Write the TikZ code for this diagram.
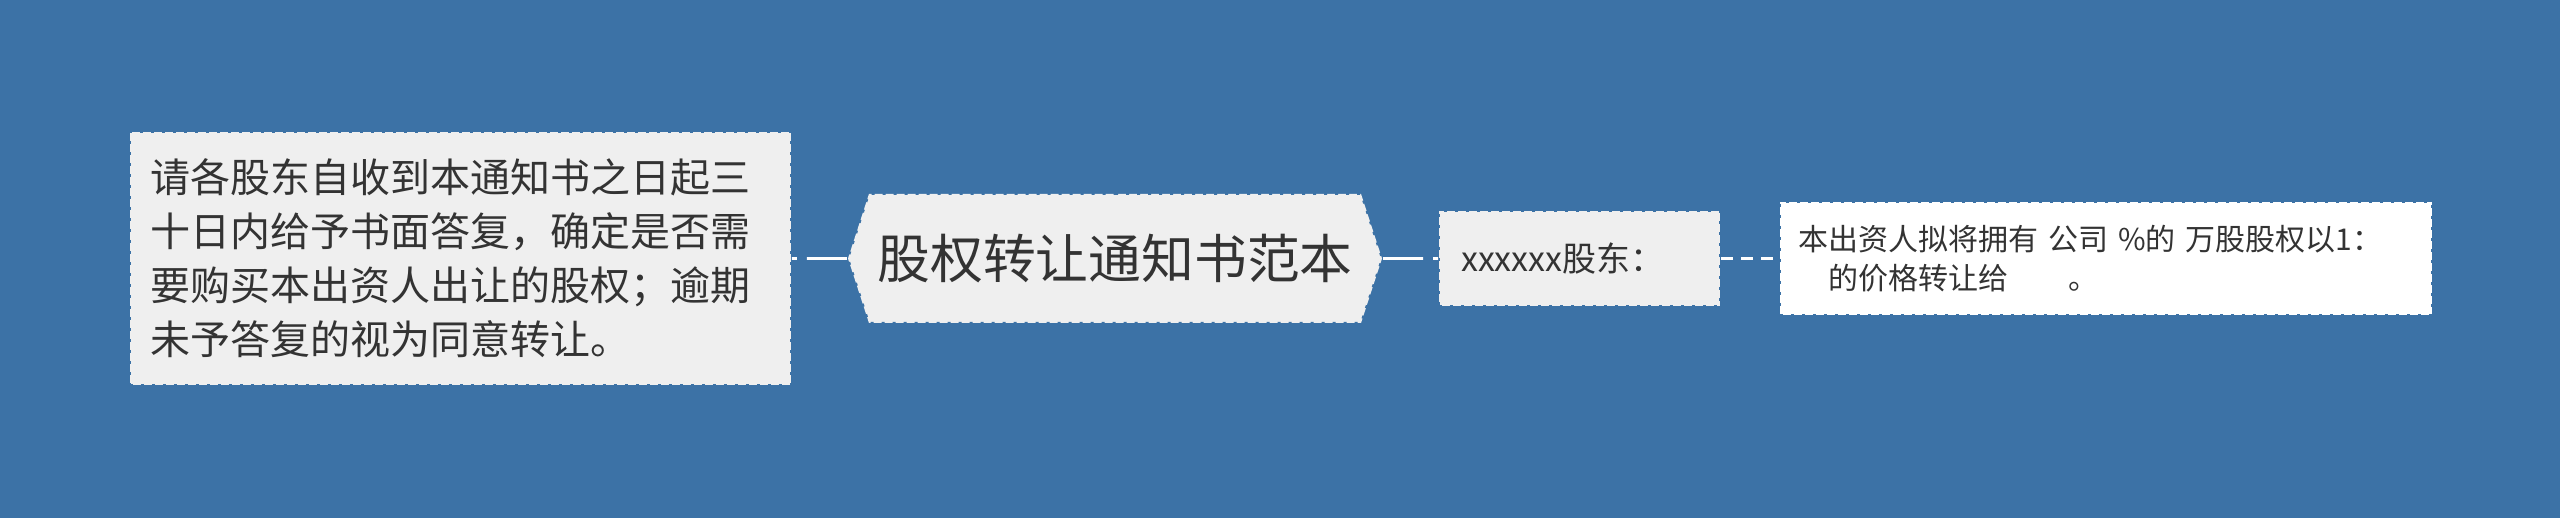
\documentclass[tikz,border=0pt]{standalone}
\usepackage{fontspec}
\setmainfont{Noto Sans CJK SC}
\usetikzlibrary{positioning}
\usetikzlibrary{shapes.symbols}
\definecolor{mBlue}{HTML}{3C72A6}
\definecolor{mGray}{HTML}{EFEFEF}
\definecolor{mText}{HTML}{333333}

\tikzset{
    topic/.style={rectangle, fill=mGray, draw=mBlue, line width=1pt, dash pattern=on 1.5pt off 4pt, text=mText, inner sep=0pt},
    link/.style={draw=white, line width=1.4pt, dash pattern=on 20pt off 5pt},
    sublink/.style={draw=white, line width=1.4pt, dash pattern=on 6pt off 4pt}
}

\begin{document}
\begin{tikzpicture}[node distance=27.5pt]
    \fill[mBlue] (0,0) rectangle (1280pt,259pt);
    \useasboundingbox (0,0) rectangle (1280pt,259pt);

    \node[topic, signal, signal to=west and east, signal pointer angle=144, minimum width=267pt, minimum height=64.5pt, font=\fontsize{26.4pt}{30pt}\selectfont] (title) at (557.5pt,129.75pt) {股权转让通知书范本};

    \node[topic, left=of title, minimum width=330.5pt, minimum height=126.5pt, text width=309.5pt, align=left, font=\fontsize{20pt}{27pt}\selectfont] (ask) {请各股东自收到本通知书之日起三\\十日内给予书面答复，确定是否需\\要购买本出资人出让的股权；逾期\\未予答复的视为同意转让。};

    \node[topic, right=of title, minimum width=140.5pt, minimum height=47.5pt, text width=118.5pt, align=left, font=\fontsize{17pt}{20pt}\selectfont] (greet) {xxxxxx股东：};

    \node[topic, fill=white, right=29pt of greet, minimum width=326pt, minimum height=56.5pt, text width=308pt, align=left, font=\fontsize{15pt}{19.5pt}\selectfont] (offer) {本出资人拟将拥有 公司 \%的 万股股权以1：\\\hspace{1em}的价格转让给\hspace{2em}。};

    \draw[link] (title) -- (ask);
    \draw[link] (title) -- (greet);
    \draw[sublink] (greet) -- (offer);
\end{tikzpicture}
\end{document}
